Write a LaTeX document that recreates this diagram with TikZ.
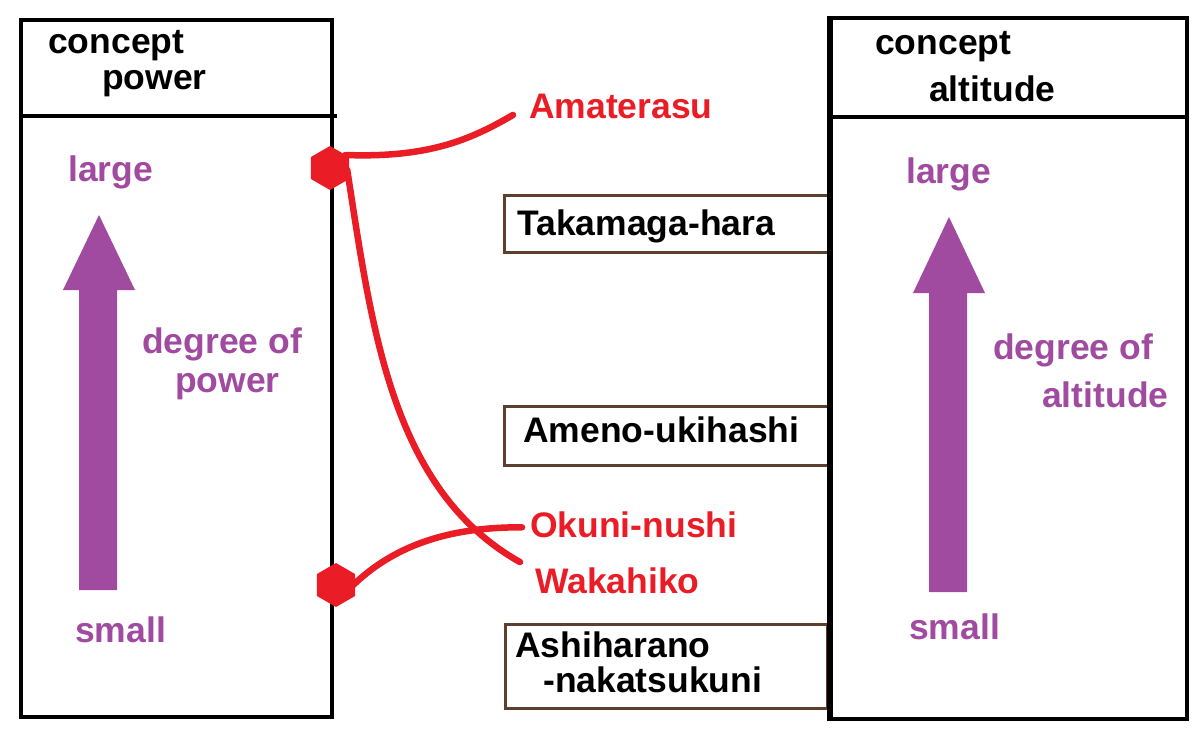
\documentclass[tikz,border=0pt]{standalone}
\usepackage{fontspec}
\setmainfont{Liberation Sans}
\usetikzlibrary{shapes.geometric}
\definecolor{purp}{HTML}{A04AA0}
\definecolor{redc}{HTML}{EA1C26}
\definecolor{brownc}{HTML}{5E3F2E}
\tikzset{
  frame/.style={draw=black, line width=4pt, rectangle, inner sep=0pt},
  placebox/.style={draw=brownc, line width=2.5pt, rectangle, inner sep=0pt, fill=white},
  txt/.style={anchor=base west, inner sep=0pt, font=\fontsize{35.5}{40}\selectfont\bfseries},
  blk/.style={txt, text=black},
  pur/.style={txt, text=purp},
  rdt/.style={txt, text=redc},
  redline/.style={draw=redc, line width=6.5pt, line cap=round},
  hexa/.style={regular polygon, regular polygon sides=6, shape border rotate=30, fill=redc, minimum size=44pt, inner sep=0pt},
  bigarrow/.style={fill=purp}
}
\begin{document}
\begin{tikzpicture}[x=1pt, y=-1pt]
\useasboundingbox (0,0) rectangle (1200,733);
% left frame
\node[frame, anchor=north west, minimum width=311pt, minimum height=697pt] (lbox) at (19,18) {};
\draw[line width=4pt] (19,116) -- (337,116);
% right frame
\node[frame, anchor=north west, minimum width=356pt, minimum height=701pt] (rbox) at (829,16) {};
\draw[line width=4pt] (829,117) -- (1188,117);
% titles
\node[blk] (lt1) at (48,54) {concept};
\node[blk] (lt2) at (102,90) {power};
\node[blk] (rt1) at (875,55) {concept};
\node[blk] (rt2) at (929,102) {altitude};
% left arrow
\path[bigarrow] (79,590) -- (79,290) -- (63,290) -- (99,215) -- (135,290) -- (117,290) -- (117,590) -- cycle;
\node[pur] (llarge) at (68,182) {large};
\node[pur] (ldeg1) at (142,353) {degree of};
\node[pur] (ldeg2) at (175,392) {power};
\node[pur] (lsmall) at (75,642) {small};
% right arrow
\path[bigarrow] (929,592) -- (929,293) -- (913,293) -- (949,217) -- (985,293) -- (967,293) -- (967,592) -- cycle;
\node[pur] (rlarge) at (906,183) {large};
\node[pur] (rdeg1) at (993,359) {degree of};
\node[pur] (rdeg2) at (1042,407) {altitude};
\node[pur] (rsmall) at (909,639) {small};
% place boxes
\node[placebox, anchor=north west, minimum width=325pt, minimum height=57pt] (taka) at (503,194) {};
\node[blk] (takat) at (517,235) {Takamaga-hara};
\node[placebox, anchor=north west, minimum width=324pt, minimum height=59pt] (ameno) at (503,405) {};
\node[blk] (amenot) at (523,442) {Ameno-ukihashi};
\node[placebox, anchor=north west, minimum width=322pt, minimum height=84pt] (ashi) at (504,623) {};
\node[blk] (ashit1) at (515,657) {Ashiharano};
\node[blk] (ashit2) at (543,692) {-nakatsukuni};
% redraw right frame edge over the place boxes
\draw[line width=4pt] (rbox.north west) -- (rbox.south west);
% red labels
\node[rdt] (ama) at (529,119) {Amaterasu};
\node[rdt] (oku) at (530,537) {Okuni-nushi};
\node[rdt] (waka) at (535,593) {Wakahiko};
% red markers
\node[hexa] (h1) at (330,168) {};
\node[hexa] (h2) at (336,585) {};
% red connectors
\draw[redline] ([xshift=-4pt,yshift=13pt]h1.east) .. controls +(83,3) and (470,140) .. ([xshift=-16pt,yshift=-8pt]ama.west);
\draw[redline] ([xshift=-2pt,yshift=-2pt]h1.east) .. controls (372,330) and (392,490) .. ([xshift=-15pt,yshift=5pt]waka.north west);
\draw[redline] ([xshift=-8pt,yshift=-3pt]oku.west) .. controls (460,527) and (400,540) .. ([xshift=-2pt]h2.east);
\end{tikzpicture}
\end{document}
